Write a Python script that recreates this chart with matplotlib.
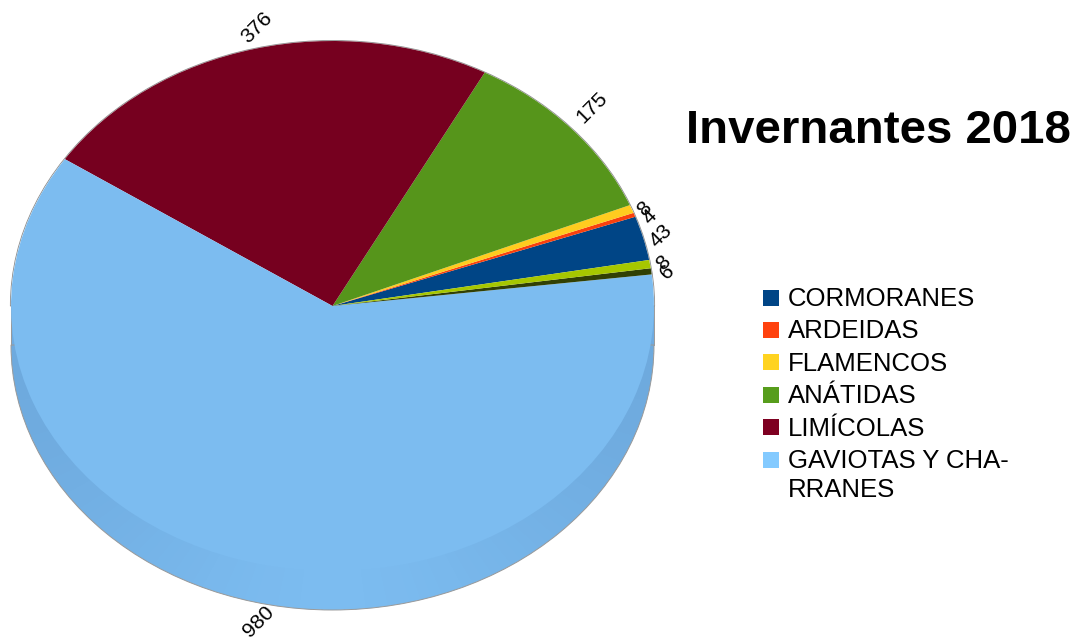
import matplotlib
matplotlib.use('Agg')
import matplotlib.pyplot as plt
from matplotlib.patches import Rectangle, Wedge
import numpy as np

plt.rcParams['font.family'] = ['Liberation Sans', 'DejaVu Sans']

# slices, counter clockwise from the start angle
values = [43, 4, 8, 175, 376, 980, 6, 8]
value_labels = ['43', '4', '8', '175', '376', '980', '6', '8']
colors = ['#004586', '#f9400d', '#ffcc1f', '#56951b', '#76001f', '#7cbcf0', '#314004', '#a6c700']
legend_names = ['CORMORANES', 'ARDEIDAS', 'FLAMENCOS', 'ANÁTIDAS', 'LIMÍCOLAS', 'GAVIOTAS Y CHA-\nRRANES']
legend_colors = ['#004586', '#ff420e', '#ffd320', '#579d1c', '#7e0021', '#83caff']
title = 'Invernantes 2018'

W, H = 1077, 640
CX, CY = 332.5, 306      # pie centre in pixels
RX, RY = 321.5, 265      # radii of the top face in pixels
DEPTH = 39 / RY          # wall height in data units
START = 10.0

# label offsets from the rim, in pixels
label_offsets = [(18, 2), (15, -2), (13, 0), (21, 21), (2, 21), (1, -58), (16, -1), (13, 1)]

fig = plt.figure(figsize=(W / 100, H / 100), dpi=100)
ax = fig.add_axes([0, 0, 1, 1])

# wall first, shaded by angle, top face goes over it
top_rgb = np.array([124, 188, 240])
side_rgb = np.array([110, 170, 222])
for a in np.arange(180, 360, 2.0):
    shade = abs(np.cos(np.radians(a + 1))) ** 1.5
    c = top_rgb * (1 - shade) + side_rgb * shade
    ax.add_patch(Wedge((0, -DEPTH), 1, a, a + 2.3, facecolor=c / 255, edgecolor='none', zorder=1))
ax.add_patch(Wedge((0, -DEPTH), 1.0, 180, 360, facecolor='none', edgecolor='#9a9a9a', linewidth=0.7, zorder=1))
ax.add_patch(Rectangle((-1, -DEPTH), 2, DEPTH, facecolor='#6fabe0', edgecolor='none', zorder=0.5))
ax.plot([-1, -1], [0, -DEPTH], color='#9a9a9a', linewidth=0.7, zorder=1)
ax.plot([1, 1], [0, -DEPTH], color='#9a9a9a', linewidth=0.7, zorder=1)

wedges, _ = ax.pie(values, colors=colors, startangle=START, counterclock=True, radius=1,
                   wedgeprops={'edgecolor': 'none', 'zorder': 3})
ax.add_patch(Wedge((0, 0), 1.002, 0, 180, facecolor='none', edgecolor='#8a8a8a', linewidth=0.6, zorder=2))

ax.set_aspect('auto')
ax.set_xlim(-CX / RX, (W - CX) / RX)
ax.set_ylim(-(H - CY) / RY, CY / RY)
ax.axis('off')

# value labels, all at 45 degrees
for w, lab, off in zip(wedges, value_labels, label_offsets):
    mid = np.radians((w.theta1 + w.theta2) / 2)
    ax.annotate(lab, xy=(np.cos(mid), np.sin(mid)), xytext=off, textcoords='offset pixels',
                rotation=45, fontsize=15.2, ha='center', va='center', color='black',
                rotation_mode='anchor', zorder=5)

# title and legend on an overlay in pixel coordinates
over = fig.add_axes([0, 0, 1, 1])
over.set_xlim(0, W)
over.set_ylim(H, 0)
over.axis('off')
over.text(686, 131, title, fontsize=34.1, fontweight='bold', ha='left', va='center', color='black')

for i, (name, col) in enumerate(zip(legend_names, legend_colors)):
    y = 297.5 + i * 32.4
    over.add_patch(Rectangle((763, y - 8), 16, 16, facecolor=col, edgecolor='none'))
    lines = name.split('\n')
    for j, line in enumerate(lines):
        over.text(787.5, y + 1.5 + j * 29, line, fontsize=18.5, ha='left', va='center', color='black')

fig.savefig('out.png', dpi=100)
